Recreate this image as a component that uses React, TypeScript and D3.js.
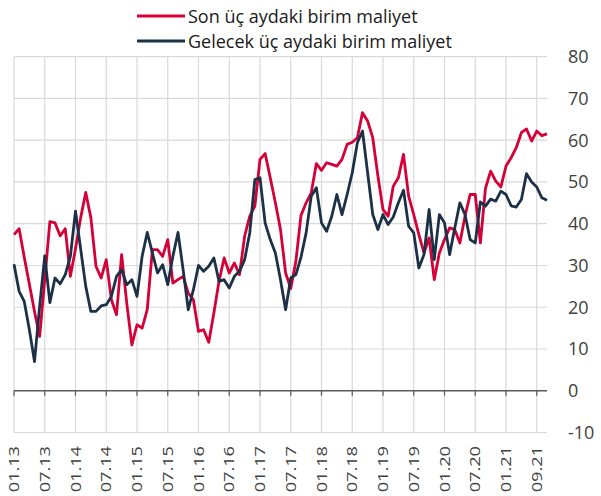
import React from "react";
import * as d3 from "d3";

const sonUcAy: number[] = [
  37.4, 38.8, 32, 25.5, 19, 13, 26.5, 40.5, 40.2, 37.1, 38.8, 27.4, 34, 41.4, 47.5, 41.4, 29.8, 27,
  31.4, 21.8, 18.2, 32.6, 21, 11, 15.8, 15, 19.4, 33.8, 33.8, 32.2, 36.2, 25.8, 26.6, 27.4, 23.4, 21.8,
  14.2, 14.6, 11.6, 18.6, 26.2, 31.8, 28.2, 30.6, 27.8, 37, 41.8, 44.2, 55.4, 56.8, 51, 45, 38.6, 28.2,
  24.5, 31, 42, 45, 47.4, 54.4, 52.8, 54.6, 54.2, 53.8, 55.4, 59, 59.5, 60.6, 66.6, 64.6, 60.6, 51.5,
  43.4, 41.8, 49, 51, 56.6, 46.6, 42.2, 37.4, 33, 36.6, 26.6, 33, 36.2, 39, 38.6, 35.4, 41.8, 47,
  47, 35.4, 48.5, 52.6, 50.2, 48.8, 53.8, 55.8, 58.2, 61.8, 62.7, 59.8, 62.2, 61.1, 61.5,
];

const gelecekUcAy: number[] = [
  30.3, 23.8, 21.4, 14.6, 7, 20.2, 32.3, 21.1, 27, 25.6, 27.8, 32.2, 43, 34, 25, 19, 19, 20.3,
  20.6, 22.6, 27.4, 29, 25.4, 26.6, 22.6, 32.2, 37.9, 33, 28.2, 30.2, 25.4, 32.2, 37.9, 29, 19.4, 24.2,
  30, 28.6, 29.8, 31.8, 26.2, 26.6, 24.6, 27.4, 28.6, 31.4, 37.8, 50.6, 51, 40.2, 36.2, 33, 26.6, 19.4,
  27, 27.8, 32, 37.8, 46.6, 48.6, 40.2, 38.2, 41.8, 47, 42.2, 47, 52.2, 59.4, 62.2, 52.2, 42.2, 38.6,
  42.2, 39.8, 41.6, 45, 48, 39.4, 37.8, 29.4, 32.6, 43.4, 31.4, 42.2, 40.2, 32.6, 39, 45, 42.2, 36.2,
  35.4, 45.2, 44.2, 45.9, 45.4, 47.8, 47, 44.3, 44, 45.8, 52, 50, 48.8, 46.2, 45.6,
];

const xTickLabels: string[] = [
  "01.13", "07.13", "01.14", "07.14", "01.15", "07.15", "01.16", "07.16", "01.17",
  "07.17", "01.18", "07.18", "01.19", "07.19", "01.20", "07.20", "01.21", "09.21",
];

const yTicks: number[] = [80, 70, 60, 50, 40, 30, 20, 10, 0, -10];

const seriesNames: string[] = ["Son üç aydaki birim maliyet", "Gelecek üç aydaki birim maliyet"];
const seriesColors: string[] = ["#d50037", "#1c3148"];

const W = 601;
const H = 496;
const FONT = "'Open Sans', sans-serif";

export default function App() {
  const n = sonUcAy.length;
  const x = d3.scaleLinear().domain([0, n - 1]).range([14, 547]);
  const y = d3.scaleLinear().domain([-10, 80]).range([432.5, 56.7]);

  const line = d3
    .line<number>()
    .x((_, i) => x(i))
    .y((d) => y(d))
    .curve(d3.curveLinear);

  const tickIdx = xTickLabels.map((_, k) => k * 6);

  return (
    <svg
      width={W}
      height={H}
      style={{ position: "absolute", left: 0, top: 0, background: "#fff" }}
      fontFamily={FONT}
    >
      {/* horizontal gridlines */}
      {yTicks
        .filter((t) => t !== 0)
        .map((t) => (
          <line key={"hg" + t} x1={x(0)} x2={x(n - 1)} y1={y(t)} y2={y(t)} stroke="#d9d9d9" strokeWidth={1.2} />
        ))}
      {/* vertical gridlines */}
      {tickIdx.map((i) => (
        <line key={"vg" + i} x1={x(i)} x2={x(i)} y1={y(80)} y2={y(-10)} stroke="#d9d9d9" strokeWidth={1.2} />
      ))}
      {/* zero axis */}
      <line x1={x(0)} x2={x(n - 1)} y1={y(0)} y2={y(0)} stroke="#595959" strokeWidth={1.5} />
      {tickIdx.map((i) => (
        <line key={"tk" + i} x1={x(i)} x2={x(i)} y1={y(0)} y2={y(0) + 5} stroke="#595959" strokeWidth={1.2} />
      ))}
      {/* y labels */}
      {yTicks.map((t) => (
        <text key={"yl" + t} x={568} y={y(t) + 6.5} fontSize={18} fill="#404040">
          {t}
        </text>
      ))}
      {/* x labels */}
      {xTickLabels.map((lab, k) => (
        <text
          key={"xl" + lab}
          transform={`translate(${x(k * 6) + 5},446) rotate(-90) scale(1.3,1)`}
          textAnchor="end"
          fontSize={14}
          fill="#404040"
        >
          {lab}
        </text>
      ))}
      {/* lines */}
      <path d={line(sonUcAy) || ""} fill="none" stroke={seriesColors[0]} strokeWidth={2.8} strokeLinejoin="round" />
      <path d={line(gelecekUcAy) || ""} fill="none" stroke={seriesColors[1]} strokeWidth={2.8} strokeLinejoin="round" />
      {/* legend */}
      {seriesNames.map((name, k) => (
        <g key={"lg" + k} transform={`translate(0,${k * 25})`}>
          <line x1={137} x2={185} y1={16} y2={16} stroke={seriesColors[k]} strokeWidth={3} />
          <text x={188} y={23} fontSize={18} fill="#1a1a1a">
            {name}
          </text>
        </g>
      ))}
    </svg>
  );
}
